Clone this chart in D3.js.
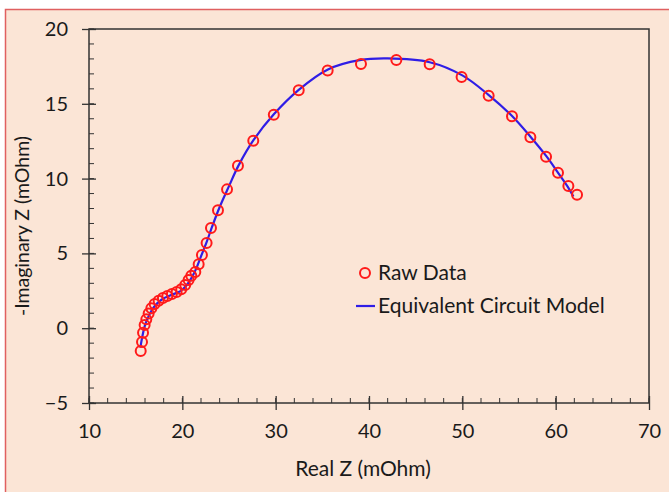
<!DOCTYPE html>
<html>
<head>
<meta charset="utf-8">
<script src="https://cdn.jsdelivr.net/npm/d3@7"></script>
<style>
  body { margin: 0; background: #fff; }
  text { font-family: Lato, "Open Sans", sans-serif; fill: #1a1a1a; }
</style>
</head>
<body>
<svg width="669" height="492"></svg>
<script>
// raw data points
var rawX = [15.54, 15.68, 15.79, 15.96, 16.14, 16.39, 16.68, 17.03, 17.46, 17.92,
            18.39, 18.88, 19.39, 19.88, 20.31, 20.67, 20.96, 21.39, 21.75, 22.1,
            22.6, 23.07, 23.82, 24.79, 25.96, 27.6, 29.8, 32.47, 35.57, 39.14,
            42.93, 46.5, 49.92, 52.82, 55.32, 57.29, 58.97, 60.25, 61.36, 62.29];
var rawY = [-1.52, -0.92, -0.3, 0.21, 0.59, 0.99, 1.33, 1.62, 1.84, 2.02,
            2.15, 2.29, 2.42, 2.6, 2.89, 3.22, 3.5, 3.76, 4.27, 4.89,
            5.7, 6.7, 7.88, 9.28, 10.86, 12.53, 14.27, 15.9, 17.22, 17.66,
            17.93, 17.64, 16.79, 15.54, 14.16, 12.76, 11.46, 10.39, 9.5, 8.92];

// equivalent circuit model curve
var modelX = [15.5, 15.7, 16.0, 16.5, 17.0, 17.8, 18.8, 19.8, 20.5, 21.0,
              21.5, 22.0, 22.6, 23.2, 24.0, 25.0, 26.0, 27.6, 29.8, 32.5,
              35.6, 39.0, 42.0, 46.5, 50.0, 52.8, 55.3, 57.3, 59.0, 60.3,
              61.3, 61.9];
var modelY = [-1.3, -0.6, 0.2, 0.95, 1.45, 1.92, 2.22, 2.48, 2.9, 3.38,
              4.0, 4.8, 5.75, 6.8, 8.1, 9.5, 10.85, 12.55, 14.3, 15.95,
              17.3, 17.92, 18.03, 17.78, 16.9, 15.6, 14.2, 12.8, 11.5, 10.35,
              9.45, 8.8];

var xTicks = [10, 20, 30, 40, 50, 60, 70];
var yTicks = [-5, 0, 5, 10, 15, 20];

var svg = d3.select("svg");

// chart background + red border
svg.append("rect")
  .attr("x", 5.5).attr("y", 9.5)
  .attr("width", 700).attr("height", 500)
  .attr("fill", "#fbe5d6")
  .attr("stroke", "#e06060")
  .attr("stroke-width", 1.5);

var pLeft = 89, pRight = 649, pTop = 29, pBottom = 403;

var x = d3.scaleLinear().domain([10, 70]).range([pLeft, pRight]);
var y = d3.scaleLinear().domain([-5, 20]).range([pBottom, pTop]);

// plot frame
svg.append("rect")
  .attr("x", pLeft).attr("y", pTop)
  .attr("width", pRight - pLeft).attr("height", pBottom - pTop)
  .attr("fill", "none")
  .attr("stroke", "#333")
  .attr("stroke-width", 1.5);

// x minor ticks (inside)
svg.append("g")
  .selectAll("line")
  .data(d3.range(10, 70.1, 2))
  .enter()
  .append("line")
  .attr("x1", function(d) { return x(d); })
  .attr("x2", function(d) { return x(d); })
  .attr("y1", pBottom)
  .attr("y2", pBottom - 5)
  .attr("stroke", "#333")
  .attr("stroke-width", 1);

// y minor ticks (inside)
svg.append("g")
  .selectAll("line")
  .data(d3.range(-5, 20.1, 1))
  .enter()
  .append("line")
  .attr("x1", pLeft)
  .attr("x2", pLeft + 5)
  .attr("y1", function(d) { return y(d); })
  .attr("y2", function(d) { return y(d); })
  .attr("stroke", "#333")
  .attr("stroke-width", 1);

// x axis, major ticks cross the line
var xAxis = svg.append("g")
  .attr("transform", "translate(0," + pBottom + ")")
  .call(d3.axisBottom(x).tickValues(xTicks).tickSizeInner(7).tickSizeOuter(0).tickPadding(14));
xAxis.select(".domain").remove();
xAxis.selectAll(".tick line").attr("y1", -7).attr("stroke", "#333").attr("stroke-width", 1.3);
xAxis.selectAll("text").style("font-size", "20px").attr("fill", "#1a1a1a");

var yAxis = svg.append("g")
  .attr("transform", "translate(" + pLeft + ",0)")
  .call(d3.axisLeft(y).tickValues(yTicks).tickSizeInner(7).tickSizeOuter(0).tickPadding(14));
yAxis.select(".domain").remove();
yAxis.selectAll(".tick line").attr("x1", 7).attr("stroke", "#333").attr("stroke-width", 1.3);
yAxis.selectAll("text").style("font-size", "20px").attr("fill", "#1a1a1a");

// axis titles
svg.append("text")
  .attr("x", (pLeft + pRight) / 2 - 6)
  .attr("y", 476)
  .attr("text-anchor", "middle")
  .style("font-size", "21px")
  .text("Real Z (mOhm)");

svg.append("text")
  .attr("transform", "translate(29,226) rotate(-90)")
  .attr("text-anchor", "middle")
  .style("font-size", "19.5px")
  .text("-Imaginary Z (mOhm)");

// model line
var model = modelX.map(function(d, i) { return [d, modelY[i]]; });
var line = d3.line()
  .x(function(d) { return x(d[0]); })
  .y(function(d) { return y(d[1]); })
  .curve(d3.curveCatmullRom);

svg.append("path")
  .datum(model)
  .attr("d", line)
  .attr("fill", "none")
  .attr("stroke", "#2f1de6")
  .attr("stroke-width", 2.2);

// raw data circles
var raw = rawX.map(function(d, i) { return [d, rawY[i]]; });
svg.append("g")
  .selectAll("circle")
  .data(raw)
  .enter()
  .append("circle")
  .attr("cx", function(d) { return x(d[0]); })
  .attr("cy", function(d) { return y(d[1]); })
  .attr("r", 5)
  .attr("fill", "none")
  .attr("stroke", "#ff1a1a")
  .attr("stroke-width", 2);

// legend
var legend = svg.append("g");
legend.append("circle")
  .attr("cx", 365).attr("cy", 273).attr("r", 5)
  .attr("fill", "none").attr("stroke", "#ff1a1a").attr("stroke-width", 2);
legend.append("text")
  .attr("x", 378).attr("y", 273).attr("dy", "0.35em")
  .style("font-size", "21px")
  .text("Raw Data");
legend.append("line")
  .attr("x1", 356).attr("x2", 375)
  .attr("y1", 306).attr("y2", 306)
  .attr("stroke", "#2f1de6").attr("stroke-width", 2.2);
legend.append("text")
  .attr("x", 378).attr("y", 306).attr("dy", "0.35em")
  .style("font-size", "21px")
  .text("Equivalent Circuit Model");
</script>
</body>
</html>
